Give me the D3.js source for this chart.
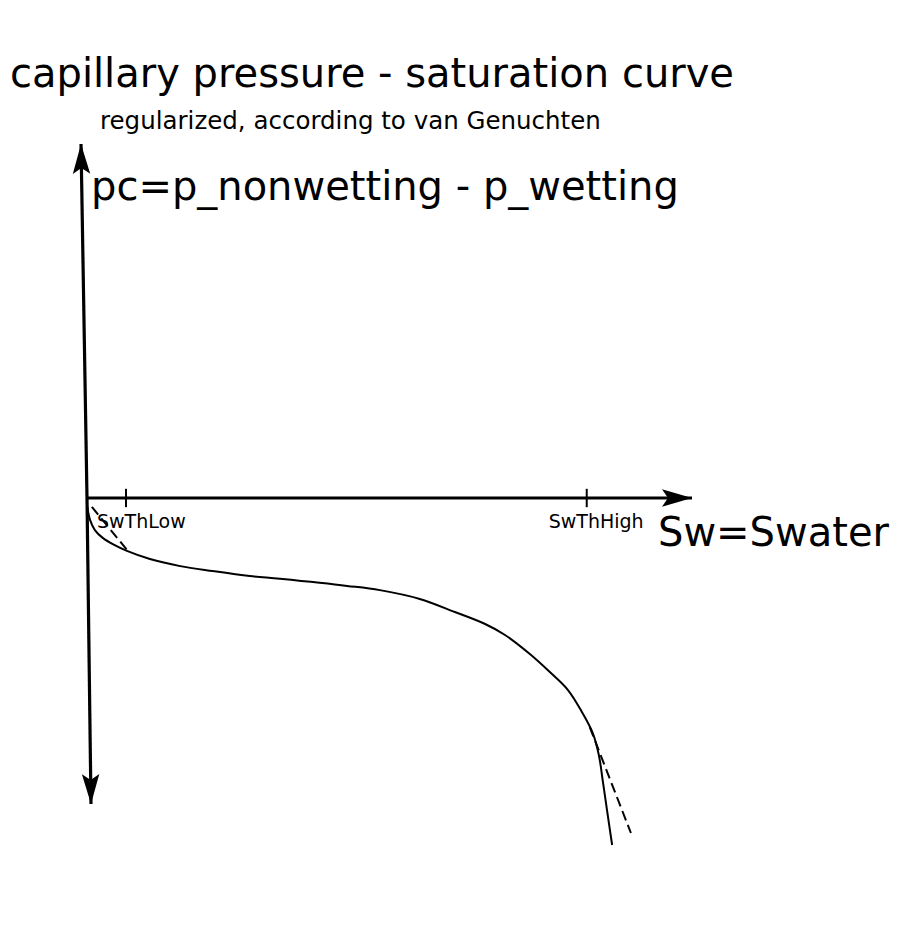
<!DOCTYPE html>
<html>
<head>
<meta charset="utf-8">
<script src="https://cdn.jsdelivr.net/npm/d3@7"></script>
<style>
  html, body { margin: 0; padding: 0; background: #fff; }
  svg { display: block; font-family: "DejaVu Sans", sans-serif; }
</style>
</head>
<body>
<svg id="chart" width="900" height="951"></svg>
<script>
// ---- data (schematic units: Sw in [0,1] along the x axis, pc normalised to the axis length) ----
const curveSw = [0, 0.002, 0.005, 0.013, 0.026, 0.045, 0.066, 0.104, 0.154, 0.208, 0.269, 0.319,
                 0.430, 0.484, 0.550, 0.608, 0.658, 0.691, 0.732, 0.765, 0.795, 0.818, 0.836,
                 0.846, 0.853, 0.860, 0.868];
const curvePc = [-0.020, -0.040, -0.062, -0.091, -0.113, -0.133, -0.150, -0.173, -0.193, -0.207,
                 -0.221, -0.229, -0.249, -0.261, -0.286, -0.323, -0.357, -0.388, -0.442, -0.493,
                 -0.544, -0.606, -0.666, -0.728, -0.807, -0.890, -0.983];
const lowExtSw = [0.008, 0.066];
const lowExtPc = [-0.025, -0.147];
const highExtSw = [0.831, 0.899];
const highExtPc = [-0.649, -0.949];
const tickValues = [0.0645, 0.826];
const tickLabels = ["SwThLow", "SwThHigh"];
const titleText = "capillary pressure - saturation curve";
const subtitleText = "regularized, according to van Genuchten";
const yLabelText = "pc=p_nonwetting - p_wetting";
const xLabelText = "Sw=Swater";

// ---- scales ----
const svg = d3.select("#chart");
const x = d3.scaleLinear().domain([0, 1]).range([87, 692]);
const y = d3.scaleLinear().domain([-1, 1]).range([851, 145]);

// ---- arrow marker ----
const defs = svg.append("defs");
defs.append("marker")
  .attr("id", "arrow")
  .attr("markerUnits", "userSpaceOnUse")
  .attr("viewBox", "-32 -10 34 20")
  .attr("refX", 0).attr("refY", 0)
  .attr("markerWidth", 34).attr("markerHeight", 20)
  .attr("orient", "auto")
  .append("path")
  .attr("d", "M0,0 L-30,-8.7 L-24,0 L-30,8.7 Z")
  .attr("fill", "#000");

// ---- axes ----
const origin = [x(0), y(0)];
// x axis
svg.append("line")
  .attr("x1", origin[0]).attr("y1", origin[1])
  .attr("x2", x(1)).attr("y2", y(0))
  .attr("stroke", "#000").attr("stroke-width", 3)
  .attr("marker-end", "url(#arrow)");
// vertical axis (slightly tilted in the original sketch)
svg.append("line")
  .attr("x1", origin[0]).attr("y1", origin[1])
  .attr("x2", x(-0.0099)).attr("y2", y(1.003))
  .attr("stroke", "#000").attr("stroke-width", 3.2)
  .attr("marker-end", "url(#arrow)");
svg.append("line")
  .attr("x1", origin[0]).attr("y1", origin[1])
  .attr("x2", x(0.0066)).attr("y2", y(-0.867))
  .attr("stroke", "#000").attr("stroke-width", 3.2)
  .attr("marker-end", "url(#arrow)");

// ticks
svg.selectAll("line.tick").data(tickValues).enter().append("line")
  .attr("class", "tick")
  .attr("x1", d => x(d)).attr("x2", d => x(d))
  .attr("y1", y(0.026)).attr("y2", y(-0.026))
  .attr("stroke", "#000").attr("stroke-width", 2);
const tickOffsets = [-29, -38];
svg.selectAll("text.ticklabel").data(tickValues).enter().append("text")
  .attr("class", "ticklabel")
  .attr("x", (d, i) => x(d) + tickOffsets[i])
  .attr("y", 528)
  .attr("font-size", 19)
  .text((d, i) => tickLabels[i]);

// ---- curve ----
const pts = curveSw.map((s, i) => [s, curvePc[i]]);
const line = d3.line().x(d => x(d[0])).y(d => y(d[1])).curve(d3.curveCatmullRom.alpha(0.5));
svg.append("path")
  .datum(pts)
  .attr("d", line)
  .attr("fill", "none").attr("stroke", "#000").attr("stroke-width", 2);

// dashed extensions
const straight = d3.line().x(d => x(d[0])).y(d => y(d[1]));
[[lowExtSw, lowExtPc], [highExtSw, highExtPc]].forEach(([s, p]) => {
  svg.append("path")
    .datum(s.map((v, i) => [v, p[i]]))
    .attr("d", straight)
    .attr("fill", "none").attr("stroke", "#000").attr("stroke-width", 2)
    .attr("stroke-dasharray", "10,5");
});

// ---- texts ----
svg.append("text").attr("x", 10).attr("y", 87).attr("font-size", 40).text(titleText);
svg.append("text").attr("x", 100).attr("y", 129).attr("font-size", 24.5).text(subtitleText);
svg.append("text").attr("x", 91).attr("y", 200).attr("font-size", 40).text(yLabelText);
svg.append("text").attr("x", 658).attr("y", 546).attr("font-size", 40).text(xLabelText);
</script>
</body>
</html>
